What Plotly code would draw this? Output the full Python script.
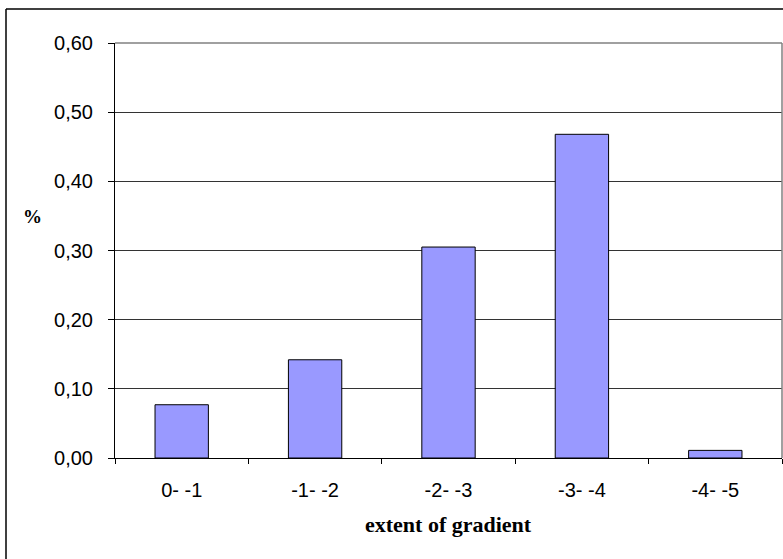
import plotly.graph_objects as go

# Share of observations per gradient class
categories = ["0- -1", "-1- -2", "-2- -3", "-3- -4", "-4- -5"]
shares = [0.077, 0.142, 0.305, 0.468, 0.011]
y_ticks = [0.0, 0.1, 0.2, 0.3, 0.4, 0.5, 0.6]

W, H = 783, 559
ML, MR, MT, MB = 115, 1, 43, 101
PW, PH = W - ML - MR, H - MT - MB


def px_x(x):
    return (x - ML) / PW


def px_y(y):
    return (H - MB - y) / PH


fig = go.Figure(
    go.Bar(
        x=categories,
        y=shares,
        marker=dict(color="#9999FF", line=dict(color="#000000", width=1)),
        width=0.4,
    )
)

tick_font = dict(family="Liberation Sans, Arial, sans-serif", size=20, color="#000000")
title_font = dict(family="Liberation Serif, Times New Roman, serif", size=22, color="#000000")

fig.update_layout(
    width=W,
    height=H,
    margin=dict(l=ML, r=MR, t=MT, b=MB, pad=0),
    paper_bgcolor="#FFFFFF",
    plot_bgcolor="#FFFFFF",
    separators=",.",
    showlegend=False,
    bargap=0.6,
    xaxis=dict(
        type="category",
        tickson="boundaries",
        ticks="outside",
        ticklen=5,
        tickcolor="#000000",
        showline=True,
        linecolor="#000000",
        linewidth=1,
        showgrid=False,
        tickfont=tick_font,
        ticklabelstandoff=14,
        fixedrange=True,
    ),
    yaxis=dict(
        range=[0, 0.6],
        tickvals=y_ticks,
        tickformat=".2f",
        ticks="outside",
        ticklen=6,
        tickcolor="#000000",
        showline=True,
        linecolor="#000000",
        linewidth=1,
        showgrid=True,
        gridcolor="#333333",
        gridwidth=1,
        zeroline=False,
        tickfont=tick_font,
        ticklabelstandoff=11,
    ),
    shapes=[
        # grey plot-area border on top and right
        dict(type="line", xref="paper", yref="paper", x0=0, x1=1, y0=1, y1=1,
             line=dict(color="#808080", width=1.5)),
        dict(type="line", xref="paper", yref="paper", x0=1, x1=1, y0=0, y1=1,
             line=dict(color="#808080", width=1.5)),
        # outer chart frame
        dict(type="line", xref="paper", yref="paper",
             x0=px_x(6), x1=px_x(W + 20), y0=px_y(9), y1=px_y(9),
             line=dict(color="#000000", width=1.5)),
        dict(type="line", xref="paper", yref="paper",
             x0=px_x(6), x1=px_x(6), y0=px_y(9), y1=px_y(H + 20),
             line=dict(color="#000000", width=1.5)),
    ],
    annotations=[
        dict(text="<b>%</b>", xref="paper", yref="paper",
             x=px_x(32), y=px_y(217), xanchor="center", yanchor="middle",
             showarrow=False, font=dict(title_font, size=19)),
        dict(text="<b>extent of gradient</b>", xref="paper", yref="paper",
             x=px_x(448), y=px_y(524), xanchor="center", yanchor="middle",
             showarrow=False, font=title_font),
    ],
)

fig.write_html("out.html")
